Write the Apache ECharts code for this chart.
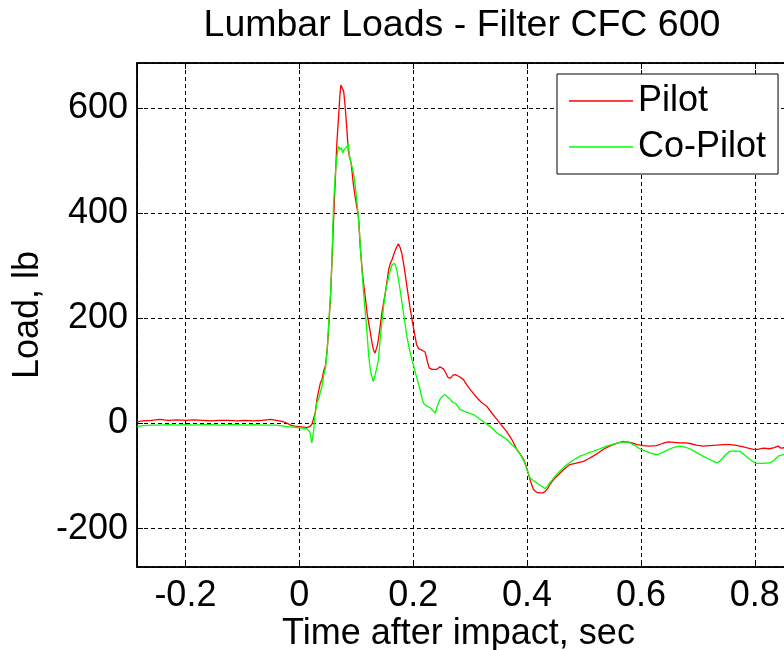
<!DOCTYPE html>
<html>
<head>
<meta charset="utf-8">
<script src="https://cdn.jsdelivr.net/npm/echarts@6/dist/echarts.min.js"></script>
<style>
html,body{margin:0;padding:0;background:#fff;}
#chart{width:784px;height:650px;}
</style>
</head>
<body>
<div id="chart"></div>
<script>
const titleText = 'Lumbar Loads - Filter CFC 600';
const xName = 'Time after impact, sec';
const yName = 'Load, lb';
const seriesNames = ['Pilot', 'Co-Pilot'];

const pilotTime = [-0.285,-0.275,-0.26,-0.245,-0.23,-0.215,-0.2,-0.185,-0.17,-0.155,-0.14,-0.125,-0.11,-0.095,-0.08,-0.065,-0.05,-0.04,-0.03,-0.022,-0.015,-0.008,0.0,0.008,0.013,0.018,0.022,0.025,0.028,0.031,0.034,0.037,0.040,0.043,0.046,0.049,0.052,0.055,0.057,0.060,0.063,0.066,0.069,0.071,0.073,0.076,0.078,0.081,0.084,0.086,0.088,0.091,0.095,0.098,0.101,0.104,0.107,0.110,0.112,0.116,0.119,0.122,0.125,0.128,0.130,0.133,0.135,0.137,0.139,0.142,0.145,0.148,0.151,0.154,0.157,0.160,0.163,0.166,0.168,0.171,0.174,0.177,0.180,0.184,0.189,0.195,0.201,0.206,0.210,0.215,0.221,0.225,0.228,0.233,0.241,0.247,0.250,0.253,0.256,0.261,0.265,0.270,0.274,0.280,0.288,0.295,0.300,0.306,0.312,0.320,0.329,0.338,0.347,0.355,0.364,0.373,0.382,0.388,0.394,0.398,0.402,0.406,0.411,0.417,0.423,0.428,0.432,0.436,0.440,0.448,0.458,0.466,0.475,0.485,0.499,0.508,0.516,0.525,0.534,0.543,0.551,0.560,0.569,0.576,0.584,0.594,0.604,0.615,0.627,0.638,0.648,0.658,0.668,0.678,0.686,0.697,0.709,0.720,0.733,0.745,0.756,0.765,0.774,0.785,0.797,0.805,0.815,0.826,0.834,0.841,0.846,0.852,0.86];
const pilotLoad = [3,5,6,8,6,7,6,7,6,5,6,6,5,6,5,6,8,6,4,1,-3,-5,-6,-7,-8,-6,-2,1,20,46,62,77,84,101,110,140,190,245,299,382,458,534,584,620,644,641,632,597,553,521,508,496,455,432,412,394,337,298,274,240,210,190,172,152,141,134,136,148,160,185,210,230,248,270,293,305,312,322,328,336,342,335,324,299,261,217,179,150,142,140,136,118,106,103,103,108,109,104,99,88,86,92,93,90,84,72,65,57,49,40,33,20,8,-3,-15,-30,-49,-58,-68,-80,-94,-110,-125,-131,-132,-132,-129,-124,-116,-105,-94,-86,-78,-76,-72,-67,-62,-56,-49,-44,-40,-37,-34,-35,-37,-40,-42,-43,-42,-38,-35,-36,-37,-37,-38,-41,-43,-42,-41,-40,-40,-41,-43,-46,-49,-49,-47,-48,-46,-43,-47,-46,-44];

const copilotTime = [-0.285,-0.275,-0.26,-0.245,-0.23,-0.215,-0.2,-0.185,-0.17,-0.155,-0.14,-0.125,-0.11,-0.095,-0.08,-0.065,-0.05,-0.04,-0.033,-0.022,-0.01,0.0,0.008,0.013,0.017,0.019,0.021,0.022,0.024,0.025,0.028,0.031,0.034,0.037,0.040,0.043,0.046,0.049,0.052,0.055,0.057,0.060,0.063,0.066,0.069,0.071,0.072,0.074,0.076,0.078,0.081,0.084,0.086,0.088,0.091,0.095,0.098,0.101,0.105,0.108,0.113,0.118,0.122,0.125,0.128,0.130,0.133,0.136,0.139,0.142,0.145,0.148,0.151,0.154,0.157,0.160,0.163,0.167,0.169,0.171,0.174,0.177,0.180,0.183,0.186,0.189,0.192,0.195,0.198,0.201,0.205,0.209,0.212,0.215,0.218,0.224,0.230,0.235,0.239,0.242,0.247,0.251,0.256,0.260,0.265,0.270,0.275,0.282,0.290,0.298,0.306,0.315,0.323,0.333,0.340,0.347,0.356,0.364,0.373,0.382,0.390,0.396,0.400,0.405,0.411,0.417,0.425,0.432,0.436,0.440,0.446,0.452,0.461,0.470,0.481,0.493,0.505,0.516,0.528,0.540,0.552,0.563,0.572,0.581,0.590,0.598,0.607,0.616,0.623,0.630,0.640,0.651,0.660,0.668,0.677,0.686,0.697,0.709,0.720,0.733,0.738,0.744,0.750,0.756,0.765,0.774,0.782,0.791,0.802,0.814,0.826,0.834,0.841,0.850,0.86];
const copilotLoad = [-6,-4,-3,-3,-2,-3,-2,-3,-2,-2,-3,-2,-2,-3,-2,-3,-3,-3,-4,-6,-7,-8,-9,-10,-14,-18,-30,-37,-22,-15,20,40,46,60,71,92,106,140,195,248,300,413,470,508,527,530,521,525,515,520,524,528,534,510,496,477,455,426,375,324,248,185,128,100,87,80,92,105,122,160,191,222,248,265,280,292,302,305,300,293,275,255,232,210,188,166,148,134,120,109,92,77,65,50,39,33,30,24,20,32,46,52,55,51,46,40,38,27,23,20,17,10,4,-4,-10,-18,-24,-30,-40,-49,-62,-75,-88,-103,-109,-113,-119,-124,-119,-113,-105,-97,-87,-78,-70,-62,-57,-53,-48,-43,-39,-36,-35,-37,-42,-48,-52,-56,-58,-59,-54,-48,-45,-43,-45,-48,-55,-62,-68,-75,-72,-65,-58,-53,-52,-53,-60,-68,-76,-76,-75,-70,-62,-59,-57];

const FONT = 'Liberation Sans, Arial, Helvetica, sans-serif';
const FS = 36;

function pairs(t, v) { return t.map((x, i) => [x, v[i]]); }

const chart = echarts.init(document.getElementById('chart'), null, {renderer: 'canvas'});
const gridLine = {show: true, lineStyle: {color: '#000', width: 1, type: [4, 3]}};
chart.setOption({
  animation: false,
  backgroundColor: '#fff',
  title: {
    text: titleText,
    left: 457, top: 2, textAlign: 'center',
    textStyle: {fontFamily: FONT, fontSize: 37.5, fontWeight: 'normal', color: '#000'}
  },
  legend: {
    orient: 'vertical',
    left: 557, top: 74,
    padding: [9, 12, 9, 12],
    itemGap: 10,
    icon: 'rect',
    itemWidth: 64, itemHeight: 1.5,
    borderColor: '#000', borderWidth: 1,
    backgroundColor: '#fff',
    textStyle: {fontFamily: FONT, fontSize: FS, color: '#000'},
    data: seriesNames
  },
  grid: {left: 137, top: 63, right: -5, bottom: 83, show: true, borderColor: '#000', borderWidth: 1.5, backgroundColor: '#fff', containLabel: false, outerBoundsMode: 'none'},
  xAxis: [{
    type: 'value', min: -0.285, max: 0.86, splitNumber: 6,
    name: xName, nameLocation: 'middle', nameGap: 49, nameMoveOverlap: false,
    nameTextStyle: {fontFamily: FONT, fontSize: FS, color: '#000', padding: [0, 9, 0, 0]},
    axisLine: {show: true, onZero: false, lineStyle: {color: '#000', width: 1.5}},
    axisTick: {show: true, inside: true, length: 6, lineStyle: {color: '#000'}},
    axisLabel: {fontFamily: FONT, fontSize: FS, color: '#000', margin: 11, showMinLabel: false, showMaxLabel: false},
    splitLine: gridLine
  }, {
    type: 'value', min: -0.285, max: 0.86, splitNumber: 6, position: 'top',
    axisLine: {show: true, onZero: false, lineStyle: {color: '#000', width: 1.5}},
    axisTick: {show: true, inside: true, length: 6, lineStyle: {color: '#000'}},
    axisLabel: {show: false},
    splitLine: {show: false}
  }],
  yAxis: [{
    type: 'value', min: -273, max: 686, splitNumber: 5,
    name: yName, nameLocation: 'middle', nameGap: 91, nameMoveOverlap: false,
    nameTextStyle: {fontFamily: FONT, fontSize: FS, color: '#000'},
    axisLine: {show: true, onZero: false, lineStyle: {color: '#000', width: 1.5}},
    axisTick: {show: true, inside: true, length: 6, lineStyle: {color: '#000'}},
    axisLabel: {fontFamily: FONT, fontSize: FS, color: '#000', margin: 9, showMinLabel: false, showMaxLabel: false},
    splitLine: gridLine
  }],
  series: [{
    name: seriesNames[0], type: 'line', xAxisIndex: 0, yAxisIndex: 0,
    data: pairs(pilotTime, pilotLoad),
    symbol: 'none', showSymbol: false,
    lineStyle: {color: '#ff0000', width: 1.3}, itemStyle: {color: '#ff0000'}
  }, {
    name: seriesNames[1], type: 'line', xAxisIndex: 0, yAxisIndex: 0,
    data: pairs(copilotTime, copilotLoad),
    symbol: 'none', showSymbol: false,
    lineStyle: {color: '#00ff00', width: 1.3}, itemStyle: {color: '#00ff00'}
  }]
});
</script>
</body>
</html>
